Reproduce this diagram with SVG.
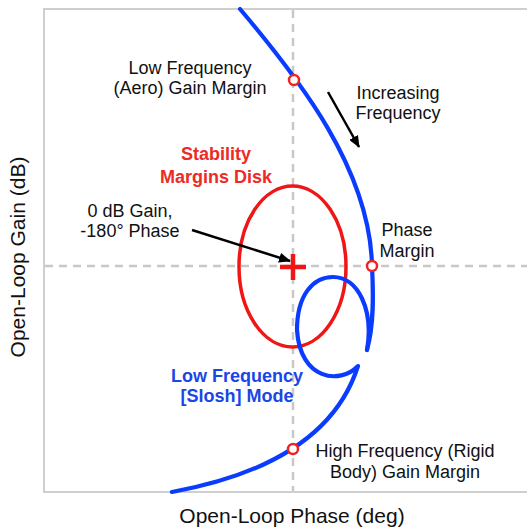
<svg xmlns="http://www.w3.org/2000/svg" width="527" height="529" viewBox="0 0 527 529">
<style>
text{font-family:"Liberation Sans",Arial,sans-serif;font-size:18px;fill:#111;text-anchor:middle}
.ax{font-size:21px}
.red{fill:#ee2a24;font-weight:bold}
.blu{fill:#1846e8;font-weight:bold}
.grid{stroke:#c8c8c8;stroke-width:2.5;stroke-dasharray:8 6;fill:none}
.curve{fill:none;stroke:#0a3cff;stroke-width:4.2;stroke-linecap:round;stroke-linejoin:round}
.mk{fill:#fff;stroke:#ee2424;stroke-width:2.5}
.arr{stroke:#000;stroke-width:2.5;fill:none;marker-end:url(#ah)}
</style>
<defs>
<marker id="ah" viewBox="0 0 12 10" refX="11" refY="5" markerWidth="12" markerHeight="10" markerUnits="userSpaceOnUse" orient="auto">
<path d="M0,0 L12,5 L0,10 z" fill="#000"/>
</marker>
</defs>
<rect width="527" height="529" fill="#fff"/>
<g id="frame">
<rect x="44" y="9" width="495" height="483" fill="none" stroke="#cfcfcf" stroke-width="2"/>
<line class="grid" x1="293" y1="10" x2="293" y2="491"/>
<line class="grid" x1="45" y1="266" x2="527" y2="266"/>
</g>
<g id="disk">
<ellipse cx="292.5" cy="266.5" rx="53.5" ry="80.5" fill="none" stroke="#f01616" stroke-width="3.5"/>
<path d="M280,267 H306 M293,254 V280" stroke="#f01616" stroke-width="4.5" fill="none"/>
</g>
<g id="connectors">
<path class="curve" d="M240,9 C300,80 370,170 372,266 C373.5,295 374,325 367,350"/>
<path class="curve" d="M172,492 C265,475 335,438 358,366 C340,385 300,380 297,330 C297,295 313,277 333,277 C358,277 374,310 367,350"/>
<line class="arr" x1="192" y1="230" x2="290" y2="261"/>
<line class="arr" x1="328" y1="92" x2="359" y2="147"/>
</g>
<g id="markers">
<circle class="mk" cx="294" cy="80" r="5"/>
<circle class="mk" cx="372" cy="266" r="5"/>
<circle class="mk" cx="293" cy="449" r="5"/>
</g>
<g id="labels">
<text x="190" y="74">Low Frequency</text>
<text x="190" y="94">(Aero) Gain Margin</text>
<text x="398" y="99">Increasing</text>
<text x="398" y="119">Frequency</text>
<text class="red" x="216" y="160">Stability</text>
<text class="red" x="216" y="183">Margins Disk</text>
<text x="130" y="217">0 dB Gain,</text>
<text x="130" y="237">-180° Phase</text>
<text x="407" y="236">Phase</text>
<text x="407" y="257">Margin</text>
<text class="blu" x="237" y="382">Low Frequency</text>
<text class="blu" x="237" y="402">[Slosh] Mode</text>
<text x="405" y="457">High Frequency (Rigid</text>
<text x="405" y="478">Body) Gain Margin</text>
<text class="ax" x="292" y="523">Open-Loop Phase (deg)</text>
<text class="ax" transform="translate(25,257) rotate(-90)">Open-Loop Gain (dB)</text>
</g>
</svg>
